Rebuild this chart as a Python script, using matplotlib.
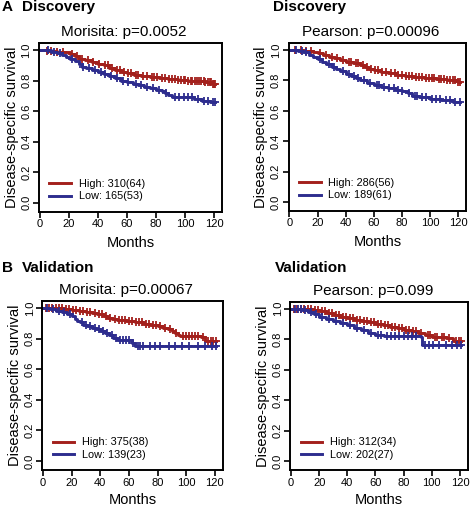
import numpy as np
import matplotlib
matplotlib.use("Agg")
import matplotlib.pyplot as plt

plt.rcParams['font.family'] = ['Liberation Sans', 'DejaVu Sans']

RED = '#A3201C'
BLUE = '#2D2C8E'

# ---------------- data ----------------
# Panel A left: Discovery, Morisita
a1_high_t = [0, 5, 12, 18, 21, 24, 27, 31, 36, 40, 44, 48, 52, 56, 60, 65, 70, 76, 82, 88, 95, 102, 108, 114, 119]
a1_high_s = [1.0, 0.995, 0.99, 0.985, 0.975, 0.96, 0.945, 0.935, 0.92, 0.91, 0.9, 0.885, 0.87, 0.86, 0.85, 0.84, 0.834, 0.826, 0.82, 0.812, 0.805, 0.8, 0.795, 0.79, 0.78]
a1_high_c = [5, 8, 12, 16, 22, 26, 29, 33, 37, 41, 45, 47, 50, 53, 55, 58, 61, 63, 66, 68, 71, 74, 77, 79, 81, 84, 86, 89, 91, 93, 95, 97, 99, 100, 102, 104, 105, 107, 108, 110, 111, 113, 114, 116, 117, 118, 119, 120, 121]
a1_low_t = [0, 8, 12, 15, 18, 21, 24, 27, 29, 32, 36, 40, 44, 48, 52, 56, 60, 64, 68, 72, 76, 80, 84, 86, 88, 91, 100, 106, 112, 117]
a1_low_s = [1.0, 0.99, 0.98, 0.97, 0.955, 0.945, 0.93, 0.91, 0.89, 0.88, 0.87, 0.86, 0.845, 0.83, 0.815, 0.8, 0.79, 0.78, 0.77, 0.76, 0.75, 0.74, 0.73, 0.72, 0.705, 0.695, 0.69, 0.68, 0.67, 0.66]
a1_low_c = [6, 10, 14, 22, 30, 34, 38, 42, 45, 49, 53, 57, 61, 66, 70, 74, 78, 82, 87, 93, 96, 99, 102, 105, 109, 113, 116, 119, 121]

# Panel A right: Discovery, Pearson
a2_high_t = [0, 10, 17, 20, 24, 28, 32, 36, 40, 45, 50, 53, 56, 60, 65, 70, 76, 82, 88, 96, 104, 112, 117, 120]
a2_high_s = [1.0, 0.995, 0.99, 0.98, 0.97, 0.955, 0.945, 0.935, 0.925, 0.915, 0.905, 0.89, 0.878, 0.868, 0.858, 0.848, 0.838, 0.828, 0.82, 0.816, 0.812, 0.806, 0.8, 0.79]
a2_high_c = [4, 8, 12, 15, 22, 26, 30, 34, 38, 42, 44, 47, 49, 52, 55, 58, 61, 63, 66, 69, 72, 75, 77, 80, 83, 85, 87, 90, 92, 94, 97, 99, 101, 103, 106, 108, 110, 112, 114, 116, 118, 120, 121]
a2_low_t = [0, 6, 10, 14, 17, 20, 23, 26, 30, 33, 36, 40, 44, 47, 50, 55, 60, 65, 70, 75, 80, 84, 87, 92, 100, 108, 116]
a2_low_s = [1.0, 0.995, 0.985, 0.97, 0.955, 0.94, 0.925, 0.91, 0.89, 0.875, 0.86, 0.845, 0.83, 0.815, 0.8, 0.785, 0.77, 0.76, 0.75, 0.74, 0.73, 0.715, 0.7, 0.69, 0.68, 0.67, 0.66]
a2_low_c = [5, 9, 12, 22, 28, 32, 38, 42, 46, 49, 53, 57, 62, 64, 67, 71, 74, 77, 80, 85, 89, 91, 94, 97, 101, 104, 107, 111, 114, 118, 121]

# Panel B left: Validation, Morisita
b1_high_t = [0, 8, 14, 20, 25, 30, 34, 38, 42, 45, 48, 52, 58, 64, 70, 75, 80, 84, 87, 90, 92, 94, 96, 110, 113]
b1_high_s = [1.0, 0.997, 0.993, 0.988, 0.982, 0.975, 0.967, 0.957, 0.947, 0.937, 0.928, 0.92, 0.912, 0.905, 0.898, 0.89, 0.88, 0.87, 0.86, 0.848, 0.835, 0.822, 0.815, 0.808, 0.785]
b1_high_c = [2, 4, 6, 9, 11, 13, 16, 18, 21, 23, 26, 28, 31, 33, 36, 39, 41, 44, 47, 50, 53, 55, 57, 60, 62, 65, 67, 69, 72, 74, 77, 79, 82, 85, 89, 93, 98, 100, 102, 104, 106, 108, 112, 115, 117, 119, 121]
b1_low_t = [0, 5, 9, 13, 17, 20, 22, 24, 26, 28, 31, 34, 37, 40, 43, 46, 49, 52, 62, 64]
b1_low_s = [1.0, 0.99, 0.98, 0.97, 0.96, 0.945, 0.93, 0.915, 0.905, 0.89, 0.88, 0.87, 0.86, 0.85, 0.835, 0.82, 0.805, 0.79, 0.77, 0.75]
b1_low_c = [3, 7, 11, 15, 19, 27, 30, 33, 36, 39, 42, 45, 48, 51, 54, 56, 58, 60, 63, 66, 68, 70, 75, 78, 82, 88, 92, 97, 102, 108, 113, 118, 121]

# Panel B right: Validation, Pearson
b2_high_t = [0, 10, 15, 20, 25, 30, 35, 40, 45, 50, 55, 60, 65, 70, 75, 80, 85, 90, 95, 100, 110, 115]
b2_high_s = [1.0, 0.995, 0.99, 0.983, 0.972, 0.96, 0.948, 0.935, 0.925, 0.917, 0.91, 0.902, 0.892, 0.88, 0.87, 0.86, 0.85, 0.837, 0.826, 0.815, 0.804, 0.787]
b2_high_c = [2, 4, 7, 9, 12, 14, 17, 19, 22, 24, 27, 29, 32, 34, 37, 39, 42, 44, 47, 49, 52, 54, 57, 59, 62, 64, 67, 69, 72, 74, 77, 79, 82, 84, 87, 89, 92, 97, 99, 102, 104, 107, 109, 112, 117, 119, 121]
b2_low_t = [0, 8, 12, 16, 20, 25, 30, 35, 40, 45, 50, 55, 60, 66, 92, 93]
b2_low_s = [1.0, 0.99, 0.978, 0.962, 0.946, 0.93, 0.917, 0.903, 0.89, 0.875, 0.86, 0.843, 0.826, 0.822, 0.815, 0.76]
b2_low_c = [3, 5, 7, 10, 14, 18, 22, 27, 32, 37, 42, 47, 52, 57, 62, 64, 68, 71, 74, 77, 80, 83, 86, 89, 95, 98, 101, 105, 110, 114, 118, 121]

x_ticks = [0, 20, 40, 60, 80, 100, 120]
y_ticks = [0.0, 0.2, 0.4, 0.6, 0.8, 1.0]
y_ticklabels = ["0.0", "0.2", "0.4", "0.6", "0.8", "1.0"]

panels = [
    dict(rect=[39/473, 1-211.7/507, 183/473, 168.4/507], title="Morisita: p=0.0052",
         high=(a1_high_t, a1_high_s, a1_high_c), low=(a1_low_t, a1_low_s, a1_low_c),
         hl="High: 310(64)", ll="Low: 165(53)", xpad=5),
    dict(rect=[288.7/473, 1-210.7/507, 177.3/473, 167.4/507], title="Pearson: p=0.00096",
         high=(a2_high_t, a2_high_s, a2_high_c), low=(a2_low_t, a2_low_s, a2_low_c),
         hl="High: 286(56)", ll="Low: 189(61)", xpad=5),
    dict(rect=[42.3/473, 1-470/507, 180.4/473, 169/507], title="Morisita: p=0.00067",
         high=(b1_high_t, b1_high_s, b1_high_c), low=(b1_low_t, b1_low_s, b1_low_c),
         hl="High: 375(38)", ll="Low: 139(23)", xpad=3.5),
    dict(rect=[290.3/473, 1-470/507, 177.4/473, 168.3/507], title="Pearson: p=0.099",
         high=(b2_high_t, b2_high_s, b2_high_c), low=(b2_low_t, b2_low_s, b2_low_c),
         hl="High: 312(34)", ll="Low: 202(27)", xpad=3.5),
]

fig = plt.figure(figsize=(4.73, 5.07), dpi=100)


def step_value(t, s, x):
    idx = np.searchsorted(np.asarray(t), x, side='right') - 1
    return np.asarray(s)[idx]


for p in panels:
    ax = fig.add_axes(p['rect'])
    for (t, s, c), col, lab in [(p['high'], RED, p['hl']), (p['low'], BLUE, p['ll'])]:
        tt = list(t) + [max(c)]
        ss = list(s) + [s[-1]]
        ax.step(tt, ss, where='post', color=col, lw=2.1, label=lab)
        ax.plot(c, step_value(t, s, c), linestyle='none', marker='+', color=col,
                markersize=6, markeredgewidth=1.3)
    ax.set_xlim(-0.5, 125.5)
    ax.set_ylim(-0.058, 1.045)
    ax.set_xticks(x_ticks)
    ax.set_yticks(y_ticks)
    ax.set_yticklabels(y_ticklabels, rotation=90, va='center')
    ax.tick_params(axis='both', direction='out', length=4, width=1.2, labelsize=8, pad=1.5)
    for sp in ax.spines.values():
        sp.set_linewidth(1.4)
    ax.set_title(p['title'], fontsize=11, pad=5, x=0.465)
    ax.set_xlabel("Months", fontsize=10.5, labelpad=p['xpad'])
    ax.set_ylabel("Disease-specific survival", fontsize=10.5, labelpad=2)
    ax.legend(loc='lower left', bbox_to_anchor=(0.01, 0.01), frameon=False, fontsize=7.8,
              handlelength=2.0, handletextpad=0.7, labelspacing=0.2, borderpad=0.3)

fig.text(2/473, 1-7/507, "A", fontsize=11, fontweight='bold', va='center', ha='left')
fig.text(22/473, 1-7/507, "Discovery", fontsize=11, fontweight='bold', va='center', ha='left')
fig.text(272.7/473, 1-7/507, "Discovery", fontsize=11, fontweight='bold', va='center', ha='left')
fig.text(2/473, 1-268/507, "B", fontsize=11, fontweight='bold', va='center', ha='left')
fig.text(22/473, 1-268/507, "Validation", fontsize=11, fontweight='bold', va='center', ha='left')
fig.text(275.3/473, 1-268/507, "Validation", fontsize=11, fontweight='bold', va='center', ha='left')

fig.savefig("out.png", dpi=100)
